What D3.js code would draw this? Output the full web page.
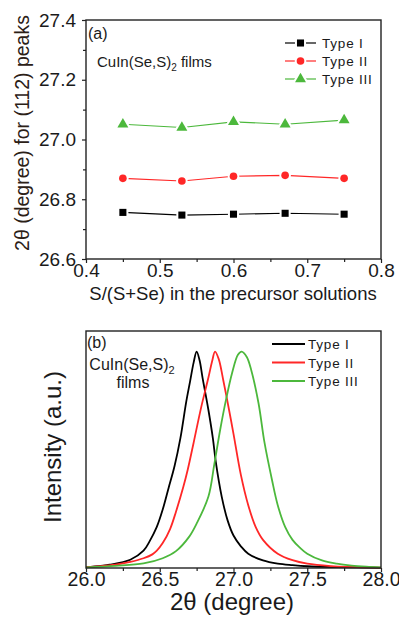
<!DOCTYPE html>
<html>
<head>
<meta charset="utf-8">
<script src="https://cdnjs.cloudflare.com/ajax/libs/d3/7.8.5/d3.min.js"></script>
<style>
  body { margin: 0; background: #fff; }
  text { font-family: "Liberation Sans", Arial, sans-serif; fill: #1a1a1a; }
</style>
</head>
<body>
<script>
// ---- panel (a): (112) peak position vs S/(S+Se)
var ratio = [0.45, 0.53, 0.60, 0.67, 0.75];
var peakTypeI = [26.756, 26.747, 26.750, 26.753, 26.750];
var peakTypeII = [26.870, 26.861, 26.877, 26.880, 26.870];
var peakTypeIII = [27.051, 27.040, 27.059, 27.051, 27.065];
var typeNames = ["Type I", "Type II", "Type III"];
var colors = ["#000000", "#ff2727", "#4cb83c"];

// ---- panel (b): (112) XRD peaks, normalised intensity
var thetaI = [26.00, 26.10, 26.16, 26.30, 26.39, 26.43, 26.48, 26.52, 26.56, 26.60, 26.64, 26.68, 26.705, 26.73, 26.75, 26.77, 26.79, 26.83, 26.86, 26.88, 26.92, 26.96, 27.00, 27.05, 27.10, 27.20, 27.30, 27.40, 27.50, 27.70, 28.00];
var intI = [0.004, 0.010, 0.015, 0.038, 0.080, 0.122, 0.190, 0.270, 0.370, 0.470, 0.600, 0.770, 0.860, 0.950, 1.000, 0.960, 0.880, 0.730, 0.600, 0.490, 0.330, 0.220, 0.150, 0.100, 0.066, 0.035, 0.020, 0.013, 0.008, 0.004, 0.001];
var thetaII = [26.00, 26.10, 26.20, 26.30, 26.39, 26.45, 26.48, 26.52, 26.57, 26.61, 26.66, 26.69, 26.73, 26.78, 26.83, 26.855, 26.875, 26.90, 26.93, 26.97, 27.00, 27.05, 27.10, 27.15, 27.20, 27.30, 27.40, 27.50, 27.66, 27.80, 28.00];
var intII = [0.004, 0.008, 0.015, 0.028, 0.045, 0.063, 0.080, 0.115, 0.180, 0.260, 0.375, 0.455, 0.580, 0.740, 0.880, 0.955, 1.000, 0.965, 0.870, 0.730, 0.620, 0.430, 0.290, 0.190, 0.130, 0.066, 0.036, 0.020, 0.009, 0.005, 0.002];
var thetaIII = [26.00, 26.20, 26.39, 26.52, 26.61, 26.70, 26.75, 26.83, 26.87, 26.91, 26.95, 26.99, 27.03, 27.055, 27.09, 27.12, 27.17, 27.21, 27.26, 27.30, 27.35, 27.40, 27.45, 27.50, 27.60, 27.70, 27.80, 27.90, 28.00];
var intIII = [0.003, 0.010, 0.021, 0.045, 0.078, 0.145, 0.205, 0.330, 0.480, 0.640, 0.780, 0.900, 0.985, 1.000, 0.975, 0.915, 0.760, 0.580, 0.410, 0.290, 0.190, 0.130, 0.094, 0.066, 0.035, 0.020, 0.011, 0.006, 0.003];

var width = 399, height = 620;

var svg = d3.select("body")
  .append("svg")
  .attr("width", width)
  .attr("height", height);

// ================= panel (a) =================
var ax = { left: 86, right: 381, top: 20, bottom: 259 };

var xA = d3.scaleLinear().domain([0.4, 0.8]).range([ax.left, ax.right]);
var yA = d3.scaleLinear().domain([26.6, 27.4]).range([ax.bottom, ax.top]);

var gA = svg.append("g").attr("class", "panel-a");

// minor ticks
gA.append("g")
  .attr("transform", "translate(0," + ax.bottom + ")")
  .call(d3.axisBottom(xA).tickValues([0.45, 0.55, 0.65, 0.75]).tickSize(3).tickFormat(""))
  .call(function (g) { g.select(".domain").remove(); });
gA.append("g")
  .attr("transform", "translate(" + ax.left + ",0)")
  .call(d3.axisLeft(yA).tickValues([26.7, 26.9, 27.1, 27.3]).tickSize(3).tickFormat(""))
  .call(function (g) { g.select(".domain").remove(); });

var xAxisA = gA.append("g")
  .attr("transform", "translate(0," + ax.bottom + ")")
  .call(d3.axisBottom(xA).tickValues([0.4, 0.5, 0.6, 0.7, 0.8]).tickSize(4).tickPadding(1).tickFormat(d3.format(".1f")));
xAxisA.selectAll("text").style("font-size", "19px");

var yAxisA = gA.append("g")
  .attr("transform", "translate(" + ax.left + ",0)")
  .call(d3.axisLeft(yA).tickValues([26.6, 26.8, 27.0, 27.2, 27.4]).tickSize(4).tickPadding(6).tickFormat(d3.format(".1f")));
yAxisA.selectAll("text").style("font-size", "19px");

svg.selectAll(".domain").remove();
svg.selectAll(".tick line").attr("stroke", "#222").attr("stroke-width", 1.2);

gA.append("rect")
  .attr("x", ax.left).attr("y", ax.top)
  .attr("width", ax.right - ax.left).attr("height", ax.bottom - ax.top)
  .attr("fill", "none").attr("stroke", "#222").attr("stroke-width", 1.4);

var seriesA = [peakTypeI, peakTypeII, peakTypeIII];
var symbolsA = [d3.symbolSquare, d3.symbolCircle, d3.symbolTriangle];
var sizesA = [50, 46, 52];

var lineA = d3.line()
  .x(function (d, i) { return xA(ratio[i]); })
  .y(function (d) { return yA(d); });

seriesA.forEach(function (vals, k) {
  gA.append("path")
    .attr("d", lineA(vals))
    .attr("fill", "none")
    .attr("stroke", colors[k])
    .attr("stroke-width", 1.1);
  gA.selectAll(".pt" + k)
    .data(vals)
    .enter().append("path")
    .attr("class", "pt" + k)
    .attr("transform", function (d, i) { return "translate(" + xA(ratio[i]) + "," + yA(d) + ")"; })
    .attr("d", d3.symbol().type(symbolsA[k]).size(sizesA[k]))
    .attr("fill", colors[k])
    .attr("stroke", "#fff")
    .attr("stroke-width", 4)
    .style("paint-order", "stroke");
});

gA.append("text").attr("x", 88).attr("y", 39).style("font-size", "16px").text("(a)");

var cuinA = gA.append("text").attr("x", 97).attr("y", 67).style("font-size", "15px");
cuinA.append("tspan").text("CuIn(Se,S)");
cuinA.append("tspan").attr("dy", 4).style("font-size", "10px").text("2");
cuinA.append("tspan").attr("dy", -4).text(" films");

var legA = gA.selectAll(".legA")
  .data(typeNames)
  .enter().append("g")
  .attr("class", "legA")
  .attr("transform", function (d, i) { return "translate(0," + (43 + i * 18) + ")"; });
legA.append("line")
  .attr("x1", 285).attr("x2", 316)
  .attr("stroke", function (d, i) { return colors[i]; })
  .attr("stroke-width", 1.2);
legA.append("path")
  .attr("transform", "translate(300.5,0)")
  .attr("d", function (d, i) { return d3.symbol().type(symbolsA[i]).size(sizesA[i])(); })
  .attr("fill", function (d, i) { return colors[i]; })
  .attr("stroke", "#fff").attr("stroke-width", 4)
  .style("paint-order", "stroke");
legA.append("text")
  .attr("x", 322).attr("y", 5)
  .style("font-size", "13.5px")
  .style("letter-spacing", "0.8px")
  .text(function (d) { return d; });

gA.append("text")
  .attr("x", 233).attr("y", 300)
  .attr("text-anchor", "middle")
  .style("font-size", "18.5px")
  .text("S/(S+Se) in the precursor solutions");

gA.append("text")
  .attr("transform", "translate(22,133) rotate(-90)")
  .attr("text-anchor", "middle")
  .attr("dominant-baseline", "central")
  .style("font-size", "19.5px")
  .style("fill", "#2b2016")
  .text("2\u03b8 (degree) for (112) peaks");

// ================= panel (b) =================
var bx = { left: 86, right: 381, top: 331, bottom: 568 };

var xB = d3.scaleLinear().domain([26.0, 28.0]).range([bx.left, bx.right]);
var yB = d3.scaleLinear().domain([0, 1.095]).range([bx.bottom, bx.top]);

var gB = svg.append("g").attr("class", "panel-b");

gB.append("g")
  .attr("transform", "translate(0," + bx.bottom + ")")
  .call(d3.axisBottom(xB).tickValues([26.25, 26.75, 27.25, 27.75]).tickSize(3).tickFormat(""))
  .call(function (g) { g.select(".domain").remove(); });

var xAxisB = gB.append("g")
  .attr("transform", "translate(0," + bx.bottom + ")")
  .call(d3.axisBottom(xB).tickValues([26.0, 26.5, 27.0, 27.5, 28.0]).tickSize(4).tickPadding(0).tickFormat(d3.format(".1f")));
xAxisB.selectAll("text").style("font-size", "19.5px");

gB.selectAll(".domain").remove();
gB.selectAll(".tick line").attr("stroke", "#222").attr("stroke-width", 1.2);

var curves = [[thetaI, intI], [thetaII, intII], [thetaIII, intIII]];

var lineB = d3.line()
  .curve(d3.curveCatmullRom.alpha(0.5))
  .x(function (d) { return xB(d[0]); })
  .y(function (d) { return yB(d[1]); });

curves.forEach(function (c, k) {
  gB.append("path")
    .attr("d", lineB(d3.zip(c[0], c[1])))
    .attr("fill", "none")
    .attr("stroke", colors[k])
    .attr("stroke-width", 1.8);
});

gB.append("rect")
  .attr("x", bx.left).attr("y", bx.top)
  .attr("width", bx.right - bx.left).attr("height", bx.bottom - bx.top)
  .attr("fill", "none").attr("stroke", "#222").attr("stroke-width", 1.4);

gB.append("text").attr("x", 87).attr("y", 348).style("font-size", "16px").text("(b)");

var cuinB = gB.append("text").attr("x", 132).attr("y", 370).attr("text-anchor", "middle").style("font-size", "16px");
cuinB.append("tspan").text("CuIn(Se,S)");
cuinB.append("tspan").attr("dy", 4).style("font-size", "11px").text("2");
gB.append("text").attr("x", 133).attr("y", 388).attr("text-anchor", "middle").style("font-size", "16px").text("films");

var legB = gB.selectAll(".legB")
  .data(typeNames)
  .enter().append("g")
  .attr("class", "legB")
  .attr("transform", function (d, i) { return "translate(0," + (344 + i * 18.5) + ")"; });
legB.append("line")
  .attr("x1", 272).attr("x2", 305)
  .attr("stroke", function (d, i) { return colors[i]; })
  .attr("stroke-width", 1.8);
legB.append("text")
  .attr("x", 308).attr("y", 5)
  .style("font-size", "13.5px")
  .style("letter-spacing", "0.8px")
  .text(function (d) { return d; });

gB.append("text")
  .attr("x", 232).attr("y", 610)
  .attr("text-anchor", "middle")
  .style("font-size", "24px")
  .text("2\u03b8 (degree)");

gB.append("text")
  .attr("transform", "translate(52,447) rotate(-90)")
  .attr("text-anchor", "middle")
  .attr("dominant-baseline", "central")
  .style("font-size", "24px")
  .text("Intensity (a.u.)");
</script>
</body>
</html>
